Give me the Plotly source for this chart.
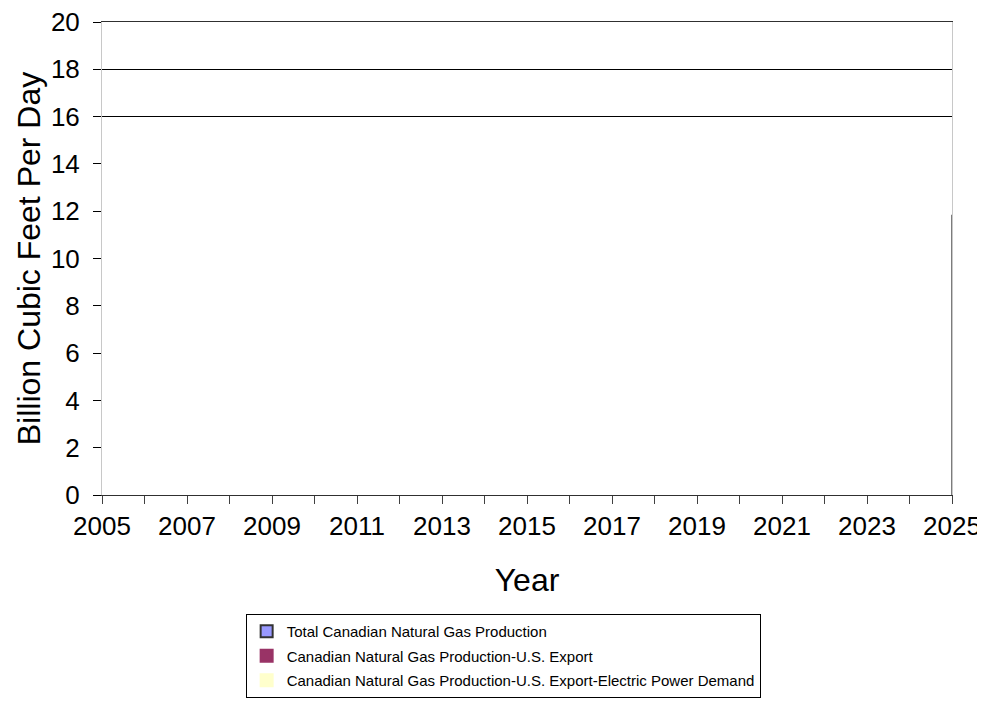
import plotly.graph_objects as go

# values (the area fills render white in the reference)
years = list(range(2005, 2026))
total_production = [15.9, 15.8, 15.7, 15.5, 15.4, 15.3, 15.2, 15.1, 15.0, 14.9, 14.8,
                    14.7, 14.6, 14.5, 14.4, 14.4, 14.3, 14.2, 14.2, 14.1, 11.85]
us_export = [9.8, 9.6, 9.4, 9.2, 9.0, 8.8, 8.6, 8.4, 8.2, 8.0, 7.8,
             7.6, 7.4, 7.2, 7.0, 6.9, 6.8, 6.7, 6.6, 6.5, 5.2]
export_minus_power = [8.6, 8.3, 8.0, 7.7, 7.4, 7.1, 6.8, 6.5, 6.2, 5.9, 5.6,
                      5.3, 5.0, 4.8, 4.6, 4.4, 4.2, 4.0, 3.8, 3.6, 2.6]

series_names = ["Total Canadian Natural Gas Production",
                "Canadian Natural Gas Production-U.S. Export",
                "Canadian Natural Gas Production-U.S. Export-Electric Power Demand"]
series_colors = ["#9999FF", "#993366", "#FFFFCC"]
series_values = [total_production, us_export, export_minus_power]

y_ticks = list(range(0, 21, 2))
x_ticks = list(range(2005, 2026, 2))
grid_ticks = [16, 18]

font = "Liberation Sans, Arial, sans-serif"

fig = go.Figure()

# the areas (white, as in the picture)
for name, vals in zip(series_names, series_values):
    fig.add_trace(go.Scatter(x=years, y=vals, mode="lines", fill="tozeroy",
                             fillcolor="white", line=dict(width=0),
                             showlegend=False, hoverinfo="skip", name=name))

# right edge of the total area
fig.add_trace(go.Scatter(x=[years[-1], years[-1]], y=[0, total_production[-1]],
                         mode="lines", line=dict(color="#505050", width=1.5),
                         showlegend=False, hoverinfo="skip", yaxis="y2"))

# legend swatches
for i, (name, col) in enumerate(zip(series_names, series_colors)):
    fig.add_trace(go.Scatter(x=[None], y=[None], mode="markers", name=name,
                             legendgroup=str(i),
                             marker=dict(symbol="square", size=9, color=col,
                                         line=dict(color="#333333" if i == 0 else col, width=1))))

fig.update_layout(
    width=985, height=702,
    margin=dict(l=94, r=41, t=14, b=215),
    paper_bgcolor="white", plot_bgcolor="white",
    font=dict(family=font, color="black"),
    xaxis=dict(range=[2005, 2025], tickvals=x_ticks, ticks="outside", ticklen=8,
               tickcolor="#404040", tickfont=dict(size=26), ticklabelstandoff=0,
               ticklabeloverflow="allow",
               showline=True, linecolor="#303030", linewidth=1, mirror=True,
               showgrid=False, zeroline=False, automargin=False,
               minor=dict(dtick=1, tick0=2005, ticks="outside", ticklen=8, tickcolor="#404040"),
               title=dict(text="Year", font=dict(size=32), standoff=28)),
    yaxis=dict(range=[0, 20], tickvals=y_ticks, ticks="outside", ticklen=8,
               tickcolor="black", tickfont=dict(size=26), ticklabelstandoff=8,
               ticklabeloverflow="allow",
               showline=True, linecolor="#C8C8C8", linewidth=1,
               showgrid=False, zeroline=False, automargin=False,
               title=dict(text="Billion Cubic Feet Per Day", font=dict(size=32), standoff=0)),
    yaxis2=dict(range=[0, 20], overlaying="y", side="right", tickvals=grid_ticks,
                showticklabels=False, ticks="", showgrid=True, gridcolor="black",
                gridwidth=1, zeroline=False, showline=True, linecolor="#C8C8C8",
                linewidth=1, automargin=False),
    legend=dict(x=0.169, y=1 - 606 / 702, xanchor="left", yanchor="top",
                yref="container",
                bordercolor="black", borderwidth=1, bgcolor="white",
                font=dict(size=15, family=font), tracegroupgap=2,
                itemsizing="constant"),
    showlegend=True,
)

fig.write_html("out.html")
